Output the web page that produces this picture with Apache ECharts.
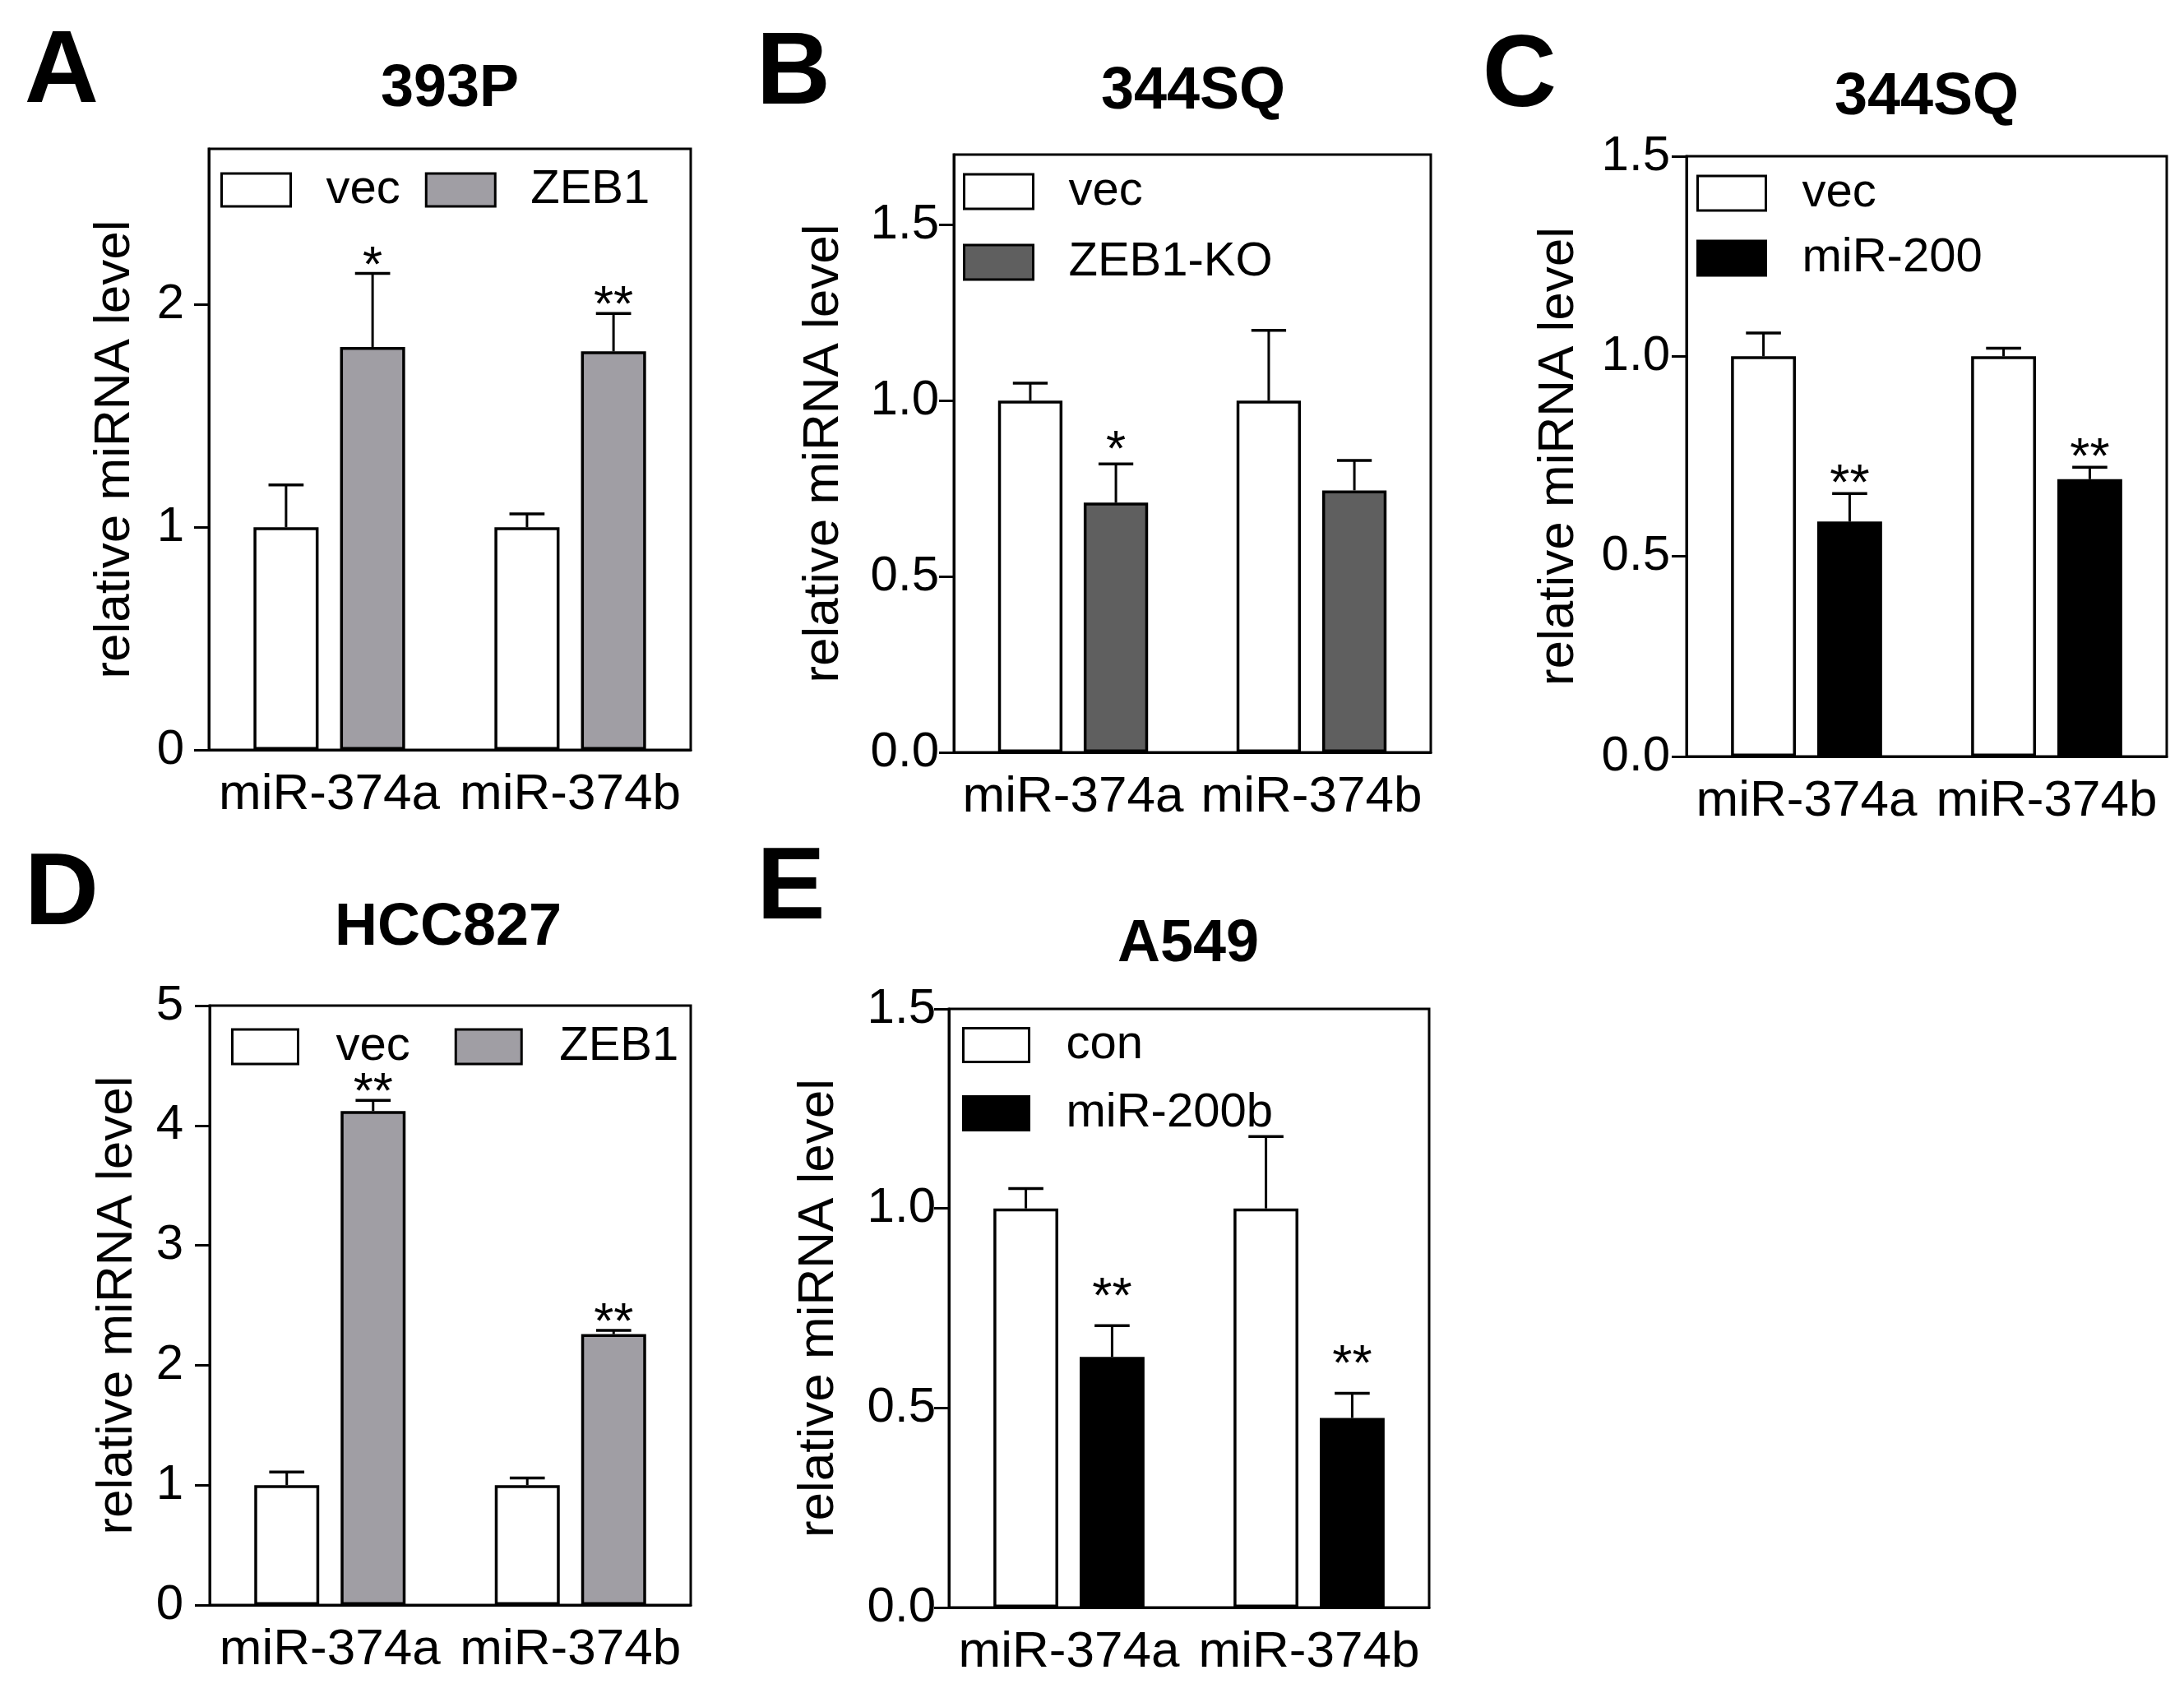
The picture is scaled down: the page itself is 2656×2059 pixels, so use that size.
<!DOCTYPE html>
<html>
<head>
<meta charset="utf-8">
<script src="https://cdn.jsdelivr.net/npm/echarts@6/dist/echarts.min.js"></script>
<style>
html, body { margin: 0; padding: 0; background: #fff; }
#chart { width: 2656px; height: 2059px; }
</style>
</head>
<body>
<div id="chart"></div>
<script>
// categories shared by every panel
var categories = ['miR-374a', 'miR-374b'];

// A: 393P
var aVec = [1.00, 1.00];
var aVecErr = [0.19, 0.06];
var aZeb = [1.81, 1.79];
var aZebErr = [0.33, 0.17];
var aStars = ['*', '**'];
var aTicks = [0, 1, 2];

// B: 344SQ ZEB1-KO
var bVec = [1.00, 1.00];
var bVecErr = [0.05, 0.20];
var bKo = [0.71, 0.745];
var bKoErr = [0.11, 0.085];
var bStars = ['*', ''];
var bTicks = [0, 0.5, 1.0, 1.5];

// C: 344SQ miR-200
var cVec = [1.00, 1.00];
var cVecErr = [0.058, 0.02];
var cMir = [0.587, 0.693];
var cMirErr = [0.07, 0.03];
var cStars = ['**', '**'];
var cTicks = [0, 0.5, 1.0, 1.5];

// D: HCC827
var dVec = [1.00, 1.00];
var dVecErr = [0.11, 0.06];
var dZeb = [4.12, 2.26];
var dZebErr = [0.09, 0.03];
var dStars = ['**', '**'];
var dTicks = [0, 1, 2, 3, 4, 5];

// E: A549
var eCon = [1.00, 1.00];
var eConErr = [0.05, 0.18];
var eMir = [0.628, 0.475];
var eMirErr = [0.078, 0.062];
var eStars = ['**', '**'];
var eTicks = [0, 0.5, 1.0, 1.5];

var FONT = 'Liberation Sans, Arial, sans-serif';
var BAR_W = 0.27, BAR_GAP = 0.33;

var panels = [
  { letter: 'A', title: '393P', grid: [254, 181, 586, 731], max: 2.7, step: 1, ticks: aTicks, dec: 0,
    names: ['vec', 'ZEB1'], fill: '#a09ea4', v1: aVec, e1: aVecErr, v2: aZeb, e2: aZebErr, stars: aStars,
    letterXY: [75, 90], titleXY: [547, 109], labelMargin: 30, nameGap: 83, starGap: 20,
    legend: { orient: 'horizontal', left: 268, top: 202, w: 84, h: 40, gap: 30, pad: 38 } },
  { letter: 'B', title: '344SQ', grid: [1160, 188, 580, 727], max: 1.7, step: 0.5, ticks: bTicks, dec: 1,
    names: ['vec', 'ZEB1-KO'], fill: '#5f5f5f', v1: bVec, e1: bVecErr, v2: bKo, e2: bKoErr, stars: bStars,
    letterXY: [965, 92], titleXY: [1451, 112], labelMargin: 18, nameGap: 127, starGap: 27,
    legend: { orient: 'vertical', left: 1171, top: 204, w: 84, h: 42, gap: 28, pad: 38 } },
  { letter: 'C', title: '344SQ', grid: [2051, 190, 584, 730], max: 1.5, step: 0.5, ticks: cTicks, dec: 1,
    names: ['vec', 'miR-200'], fill: '#000000', v1: cVec, e1: cVecErr, v2: cMir, e2: cMirErr, stars: cStars,
    letterXY: [1848, 95], titleXY: [2343, 119], labelMargin: 20, nameGap: 124, starGap: 22,
    legend: { orient: 'vertical', left: 2063, top: 206, w: 83, h: 42, gap: 21, pad: 39 } },
  { letter: 'D', title: 'HCC827', grid: [255, 1223, 585, 729], max: 5, step: 1, ticks: dTicks, dec: 0,
    names: ['vec', 'ZEB1'], fill: '#a09ea4', v1: dVec, e1: dVecErr, v2: dZeb, e2: dZebErr, stars: dStars,
    letterXY: [75, 1090], titleXY: [545, 1129], labelMargin: 32, nameGap: 81, starGap: 20,
    legend: { orient: 'horizontal', left: 281, top: 1244, w: 80, h: 42, gap: 54, pad: 41 } },
  { letter: 'E', title: 'A549', grid: [1154, 1227, 584, 728], max: 1.5, step: 0.5, ticks: eTicks, dec: 1,
    names: ['con', 'miR-200b'], fill: '#000000', v1: eCon, e1: eConErr, v2: eMir, e2: eMirErr, stars: eStars,
    letterXY: [962, 1083], titleXY: [1445, 1149], labelMargin: 16, nameGap: 127, starGap: 45,
    legend: { orient: 'vertical', left: 1170, top: 1242, w: 80, h: 41, gap: 25, pad: 40 } }
];

// error bar (+ significance stars) drawn on top of a bar, side -1 = left bar, +1 = right bar
function errRender(side, stars, starGap) {
  return function (params, api) {
    var i = api.value(0);
    var base = api.coord([i, api.value(1)]);
    var tip = api.coord([i, api.value(2)]);
    var band = api.size([1, 0])[0];
    var x = base[0] + side * band * BAR_W * (1 + BAR_GAP) / 2;
    var cap = band * BAR_W * 0.54;
    var kids = [
      { type: 'line', shape: { x1: x, y1: base[1], x2: x, y2: tip[1] }, style: { stroke: '#000', lineWidth: 3 } },
      { type: 'line', shape: { x1: x - cap / 2, y1: tip[1], x2: x + cap / 2, y2: tip[1] }, style: { stroke: '#000', lineWidth: 3.5 } }
    ];
    var s = stars ? stars[params.dataIndex] : '';
    if (s) {
      kids.push({ type: 'text', x: x, y: tip[1] - starGap + 12,
        style: { text: s, fill: '#000', font: '62px ' + FONT, align: 'center', verticalAlign: 'middle' } });
    }
    return { type: 'group', children: kids };
  };
}

function errData(vals, errs) {
  return vals.map(function (v, i) { return [i, v, v + errs[i]]; });
}

var grids = [], xAxes = [], yAxes = [], legends = [], series = [], graphics = [];

panels.forEach(function (p, k) {
  grids.push({ left: p.grid[0], top: p.grid[1], width: p.grid[2], height: p.grid[3],
    show: true, borderColor: '#000', borderWidth: 3, backgroundColor: 'transparent' });
  xAxes.push({ gridIndex: k, type: 'category', data: categories,
    axisLine: { lineStyle: { color: '#000', width: 3 } }, axisTick: { show: false },
    axisLabel: { interval: 0, hideOverlap: false, fontSize: 62, color: '#000', margin: 24, fontFamily: FONT } });
  yAxes.push({ gridIndex: k, type: 'value', min: 0, max: p.max, interval: p.step,
    splitLine: { show: false },
    axisLine: { show: true, lineStyle: { color: '#000', width: 3 } },
    axisTick: { show: true, length: 18, lineStyle: { color: '#000', width: 3 }, customValues: p.ticks },
    axisLabel: { customValues: p.ticks, fontSize: 60, color: '#000', margin: p.labelMargin, fontFamily: FONT,
      formatter: (function (d) { return function (v) { return Number(v).toFixed(d); }; })(p.dec) },
    name: 'relative miRNA level', nameLocation: 'middle', nameGap: p.nameGap,
    nameTextStyle: { fontSize: 62, color: '#000', fontFamily: FONT } });
  legends.push({ data: p.names, orient: p.legend.orient, left: p.legend.left, top: p.legend.top,
    itemWidth: p.legend.w, itemHeight: p.legend.h, itemGap: p.legend.gap, icon: 'rect', padding: 0,
    selectedMode: false,
    itemStyle: { borderColor: '#000', borderWidth: 3 },
    textStyle: { fontSize: 58, color: '#000', fontFamily: FONT, padding: [0, 0, 0, p.legend.pad] } });
  series.push({ name: p.names[0], type: 'bar', xAxisIndex: k, yAxisIndex: k, data: p.v1,
    barWidth: (BAR_W * 100) + '%', barGap: (BAR_GAP * 100) + '%',
    itemStyle: { color: '#fff', borderColor: '#000', borderWidth: 3.5 } });
  series.push({ name: p.names[1], type: 'bar', xAxisIndex: k, yAxisIndex: k, data: p.v2,
    barWidth: (BAR_W * 100) + '%', barGap: (BAR_GAP * 100) + '%',
    itemStyle: { color: p.fill, borderColor: '#000', borderWidth: 3.5 } });
  series.push({ type: 'custom', xAxisIndex: k, yAxisIndex: k, z: 3, data: errData(p.v1, p.e1),
    encode: { x: 0, y: 1 }, renderItem: errRender(-1, null, p.starGap) });
  series.push({ type: 'custom', xAxisIndex: k, yAxisIndex: k, z: 3, data: errData(p.v2, p.e2),
    encode: { x: 0, y: 1 }, renderItem: errRender(1, p.stars, p.starGap) });
  graphics.push({ type: 'text', x: p.letterXY[0], y: p.letterXY[1],
    style: { text: p.letter, fill: '#000', font: 'bold 125px ' + FONT, align: 'center', verticalAlign: 'middle' } });
  graphics.push({ type: 'text', x: p.titleXY[0], y: p.titleXY[1],
    style: { text: p.title, fill: '#000', font: 'bold 72px ' + FONT, align: 'center', verticalAlign: 'middle' } });
});

var myChart = echarts.init(document.getElementById('chart'), null, { renderer: 'canvas' });
myChart.setOption({
  backgroundColor: '#fff',
  animation: false,
  grid: grids,
  xAxis: xAxes,
  yAxis: yAxes,
  legend: legends,
  series: series,
  graphic: { elements: graphics }
});
</script>
</body>
</html>
